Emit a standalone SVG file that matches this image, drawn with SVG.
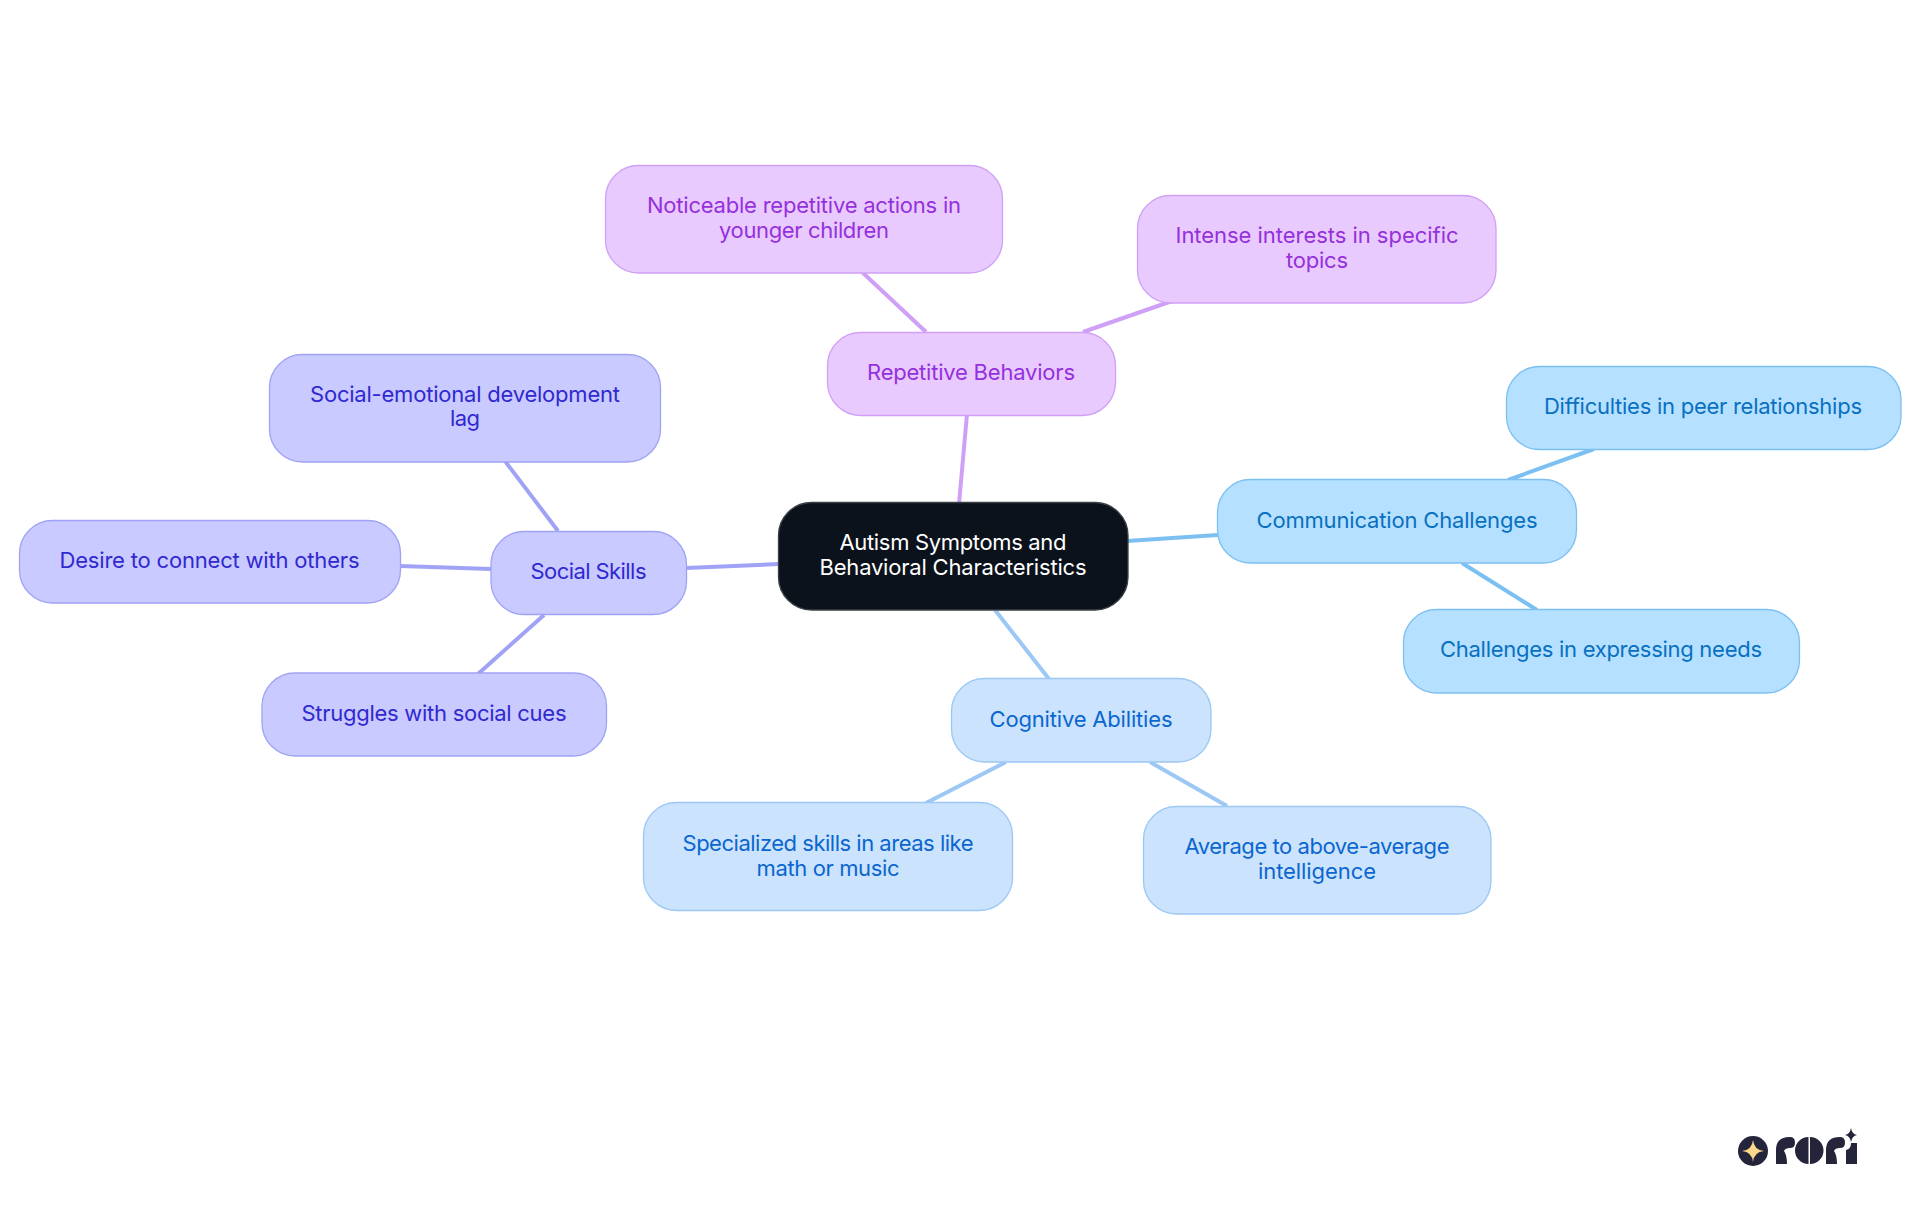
<svg xmlns="http://www.w3.org/2000/svg" width="1920" height="1215" viewBox="0 0 1920 1215">
<style>
text{font-family:"Inter","Liberation Sans",sans-serif;font-size:22px;font-weight:400;text-anchor:middle}
rect{stroke-width:1.3}
.l{fill:none;stroke-width:4}
.root rect{fill:#0b121b;stroke:#3a4046}.root text{fill:#fff}
.pu rect{fill:#e8caff;stroke:#d0a0f5}.pu text{fill:#9530dc}
.in rect{fill:#c9caff;stroke:#a0a3f5}.in text{fill:#3028d0}
.sk rect{fill:#b5e0ff;stroke:#7cc0f2}.sk text{fill:#0870c0}
.bl rect{fill:#cce3fd;stroke:#9cc8f5}.bl text{fill:#0a66d0}
</style>
<rect width="1920" height="1215" fill="#fff" stroke="none"/>
<g id="connectors">
<path class="l" stroke="#cfa0f5" d="M959 504L967 414M926 332L862 272M1083 332L1172 301"/>
<path class="l" stroke="#a0a3f5" d="M779 564L686 568M491 569L400 566M558 531L505 461M544 615L478 674"/>
<path class="l" stroke="#7cc0f2" d="M1127 541L1218 535M1508 480L1594 449M1462 563L1537 610"/>
<path class="l" stroke="#9cc8f5" d="M995 610L1049 679M1006 762L926 803M1150 762L1227 806"/>
</g>
<g id="root" class="root"><rect x="778.500" y="502.500" width="349.500" height="107.500" rx="33"/><text x="953" y="550" textLength="227">Autism Symptoms and</text><text x="953" y="575" textLength="267">Behavioral Characteristics</text></g>
<g id="repetitive" class="pu"><rect x="827.500" y="332.500" width="288" height="83" rx="33"/><text x="971" y="380" textLength="208">Repetitive Behaviors</text></g>
<g id="noticeable" class="pu"><rect x="605.500" y="165.500" width="397" height="107.500" rx="33"/><text x="804" y="213" textLength="314">Noticeable repetitive actions in</text><text x="804" y="238" textLength="170">younger children</text></g>
<g id="intense" class="pu"><rect x="1137.500" y="195.500" width="358.500" height="107.500" rx="33"/><text x="1317" y="243" textLength="283">Intense interests in specific</text><text x="1317" y="268" textLength="62">topics</text></g>
<g id="social" class="in"><rect x="491" y="531.500" width="195.500" height="83" rx="33"/><text x="588.500" y="579" textLength="116">Social Skills</text></g>
<g id="emotional" class="in"><rect x="269.500" y="354.500" width="391" height="107.500" rx="33"/><text x="465" y="402" textLength="310">Social-emotional development</text><text x="465" y="426" textLength="30">lag</text></g>
<g id="desire" class="in"><rect x="19.500" y="520.500" width="381" height="82.500" rx="33"/><text x="209.500" y="568" textLength="300">Desire to connect with others</text></g>
<g id="struggles" class="in"><rect x="262" y="673" width="344.500" height="83" rx="33"/><text x="434" y="721" textLength="265">Struggles with social cues</text></g>
<g id="communication" class="sk"><rect x="1217.500" y="479.500" width="359" height="83.500" rx="33"/><text x="1397" y="528" textLength="281">Communication Challenges</text></g>
<g id="difficulties" class="sk"><rect x="1506.500" y="366.500" width="394.500" height="83" rx="33"/><text x="1703" y="414" textLength="318">Difficulties in peer relationships</text></g>
<g id="challenges" class="sk"><rect x="1403.500" y="609.500" width="396" height="83.500" rx="33"/><text x="1601" y="657" textLength="322">Challenges in expressing needs</text></g>
<g id="cognitive" class="bl"><rect x="951.500" y="678.500" width="259.500" height="83.500" rx="33"/><text x="1081" y="727" textLength="183">Cognitive Abilities</text></g>
<g id="specialized" class="bl"><rect x="643.500" y="802.500" width="369" height="108" rx="33"/><text x="828" y="851" textLength="291">Specialized skills in areas like</text><text x="828" y="876" textLength="143">math or music</text></g>
<g id="average" class="bl"><rect x="1143.500" y="806.500" width="347.500" height="107.500" rx="33"/><text x="1317" y="854" textLength="265">Average to above-average</text><text x="1317" y="879" textLength="118">intelligence</text></g>
<g id="logo">
<circle cx="1753" cy="1151" r="15" fill="#24243a"/>
<path d="M1753 1140Q1754 1150 1764 1151Q1754 1152 1753 1162Q1752 1152 1742 1151Q1752 1150 1753 1140Z" fill="#fdd88a"/>
<path fill="#24243a" d="M1776 1164V1150Q1776 1137 1790 1137Q1795 1137 1795 1142.500Q1795 1148 1790 1148Q1785 1148 1784 1151Q1787 1155 1787 1164ZM1808.500 1137a13.500 13.500 0 0 0 0 27ZM1810 1137a13.500 13.500 0 0 1 0 27ZM1826 1164V1150Q1826 1137 1840 1137Q1845 1137 1845 1142.500Q1845 1148 1840 1148Q1835 1148 1834 1151Q1837 1155 1837 1164ZM1846 1164V1150Q1851 1149 1851 1143H1857V1164ZM1851 1128q1 6 6 7q-5 1-6 7q-1-6-6-7q5-1 6-7Z"/>
</g>
</svg>
